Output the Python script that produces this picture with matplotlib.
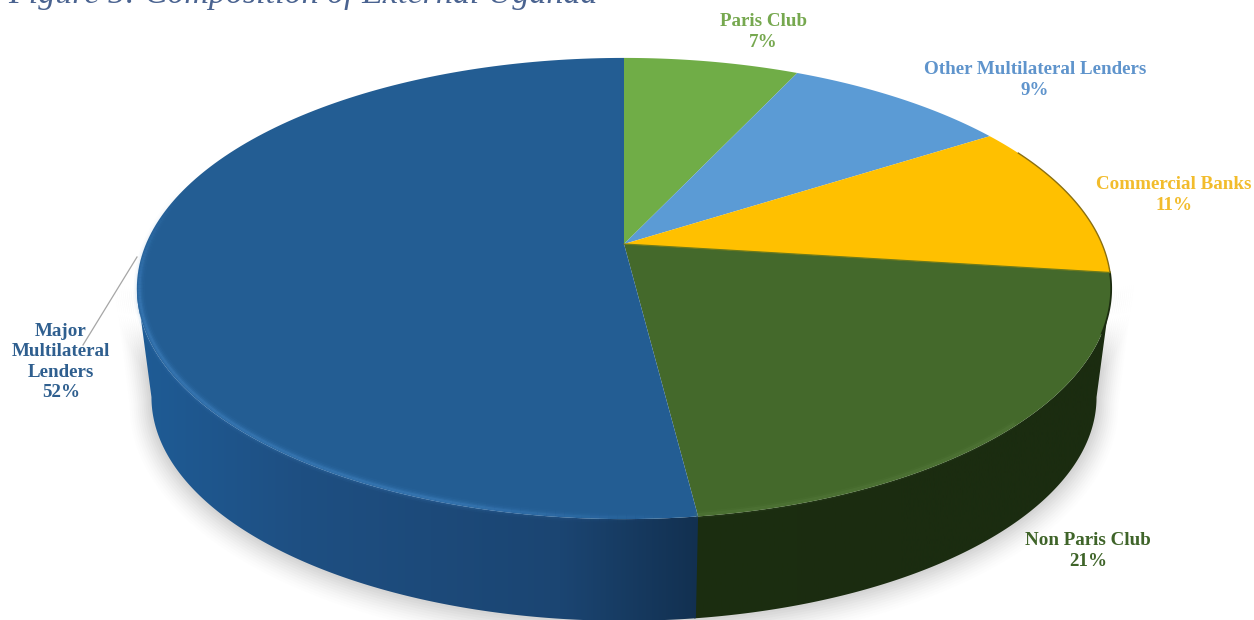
import numpy as np
import matplotlib
matplotlib.use("Agg")
import matplotlib.pyplot as plt
from matplotlib.colors import to_rgb
from matplotlib.patches import Polygon

# Debt composition, clockwise from twelve o'clock
lenders = ["Paris Club", "Other Multilateral Lenders", "Commercial Banks",
           "Non Paris Club", "Major Multilateral Lenders"]
shares = [7, 9, 11, 21, 52]
top_colors = ["#70AD47", "#5B9BD5", "#FFC000", "#44692B", "#235D93"]
label_colors = ["#76A84F", "#5F94CC", "#F2BC2C", "#3F6429", "#2F5F8F"]
label_texts = ["Paris Club\n7%", "Other Multilateral Lenders\n9%",
               "Commercial Banks\n11%", "Non Paris Club\n21%",
               "Major\nMultilateral\nLenders\n52%"]
label_xy = [(763, 32), (1035, 80), (1174, 195), (1088, 551), (61, 362)]
title = "Figure 5: Composition of External Uganda"

# Tilted-disc projection parameters (pixels)
CX, CY = 624, 244
RX, RY = 478, 222
K = 0.193
BOTTOM_CY, BOTTOM_SCALE = 354, 0.97


def project(theta_deg, radius=1.0, cy=CY, scale=1.0):
    t = np.radians(theta_deg)
    u, v = radius * np.sin(t), radius * np.cos(t)
    w = 1 + K * v
    return CX + scale * RX * u / w, cy - scale * RY * v / w


fig = plt.figure(figsize=(12.54, 6.20), dpi=100)
ax = fig.add_axes([0, 0, 1, 1])

edges = np.concatenate([[0], np.cumsum(shares)]) * 360 / sum(shares)

# Angles where the projected disc is widest: the wall's visible limits
RIGHT_LIMIT = np.degrees(np.arccos(-K))
LEFT_LIMIT = 360 - RIGHT_LIMIT

# Soft shadow under the lower rim
ring = np.linspace(RIGHT_LIMIT, LEFT_LIMIT, 200)
for grow, alpha in zip(np.linspace(22, 2, 11), np.linspace(0.012, 0.05, 11)):
    sx, sy = project(ring, cy=BOTTOM_CY + grow * 0.25, scale=BOTTOM_SCALE)
    tx, ty = project(ring[::-1])
    mx = CX + (np.r_[sx, tx] - CX) * (1 + grow / 480)
    my = (np.r_[sy, ty] - 350) * (1 + grow / 270) + 350
    ax.fill(mx, my, color="#808080", alpha=alpha, lw=0, zorder=1)


def wall(a0, a1, stops):
    """Outer wall between two angles, shaded left to right."""
    th = np.linspace(a0, a1, 200)
    xt, yt = project(th)
    xb, yb = project(th[::-1], cy=BOTTOM_CY, scale=BOTTOM_SCALE)
    xs, ys = np.r_[xt, xb], np.r_[yt, yb]
    lo, hi = xs.min(), xs.max()
    px = np.linspace(lo, hi, 512)
    pos = [s[0] for s in stops]
    rgb = np.array([to_rgb(s[1]) for s in stops])
    row = np.stack([np.interp(px, pos, rgb[:, c]) for c in range(3)], axis=-1)
    img = ax.imshow(row[None, :, :], aspect="auto", extent=(lo, hi, 620, 0),
                    zorder=2, interpolation="bilinear")
    poly = Polygon(np.c_[xs, ys], closed=True, fc="none", ec="none",
                   transform=ax.transData)
    ax.add_patch(poly)
    img.set_clip_path(poly)


wall(RIGHT_LIMIT, edges[4] + 0.2,
     [(694, "#1C2E10"), (900, "#1B2C10"), (1115, "#1B2C10")])
wall(edges[4], LEFT_LIMIT,
     [(135, "#1F5C96"), (300, "#1E4F82"), (560, "#1B4572"), (698, "#123050")])

# Top face wedges
for i in range(len(shares)):
    th = np.linspace(edges[i], edges[i + 1], 160)
    x, y = project(th)
    ax.fill(np.r_[CX, x], np.r_[CY, y], color=top_colors[i], lw=0, zorder=3)

# Rim highlights and dark edges on the top face
seg = np.linspace(edges[4], 285, 130)
for a0, a1 in zip(seg[:-1], seg[1:]):
    x, y = project(np.array([a0, a1]), radius=0.995)
    m = (a0 + a1) / 2
    strength = np.clip(min((m - edges[4]) / 25, (285 - m) / 30, 1), 0, 1)
    for lw, al in [(8, 0.05), (5.5, 0.1), (3.5, 0.15), (1.8, 0.25)]:
        ax.plot(x, y, color="#4A8ED0", lw=lw, alpha=al * strength,
                solid_capstyle="butt", zorder=4)
seg = np.linspace(135, edges[4], 50)
for lw, al in [(5, 0.07), (2.5, 0.15)]:
    x, y = project(seg, radius=0.995)
    ax.plot(x, y, color="#6B9050", lw=lw, alpha=al, zorder=4)
x, y = project(np.linspace(edges[3], 112, 40))
ax.plot(x, y, color="#1C2C10", lw=1.3, zorder=4)
x, y = project(np.linspace(edges[2] + 6, edges[3], 40))
ax.plot(x, y, color="#8A6F10", lw=1.0, zorder=4)
x, y = project(np.array([edges[3], edges[3]]), radius=1.0)
ax.plot([CX, x[0]], [CY, y[0]], color="#6F7A18", lw=0.9, zorder=4)

# Leader line for the largest slice
ax.plot([137, 83], [257, 345], color="#A6A6A6", lw=0.9, zorder=5)

# Slice labels
for txt, (lx, ly), col in zip(label_texts, label_xy, label_colors):
    ax.text(lx, ly, txt, color=col, ha="center", va="center",
            family="Liberation Serif", weight="bold", fontsize=13.7,
            linespacing=1.27, zorder=6)

# Caption, running off the upper edge of the canvas
ax.text(8, 3, title, color="#4A6390", style="italic", family="Liberation Serif",
        fontsize=24.5, ha="left", va="baseline", zorder=6)

ax.set_xlim(0, 1254)
ax.set_ylim(620, 0)
ax.axis("off")

fig.savefig("out.png", dpi=100)
